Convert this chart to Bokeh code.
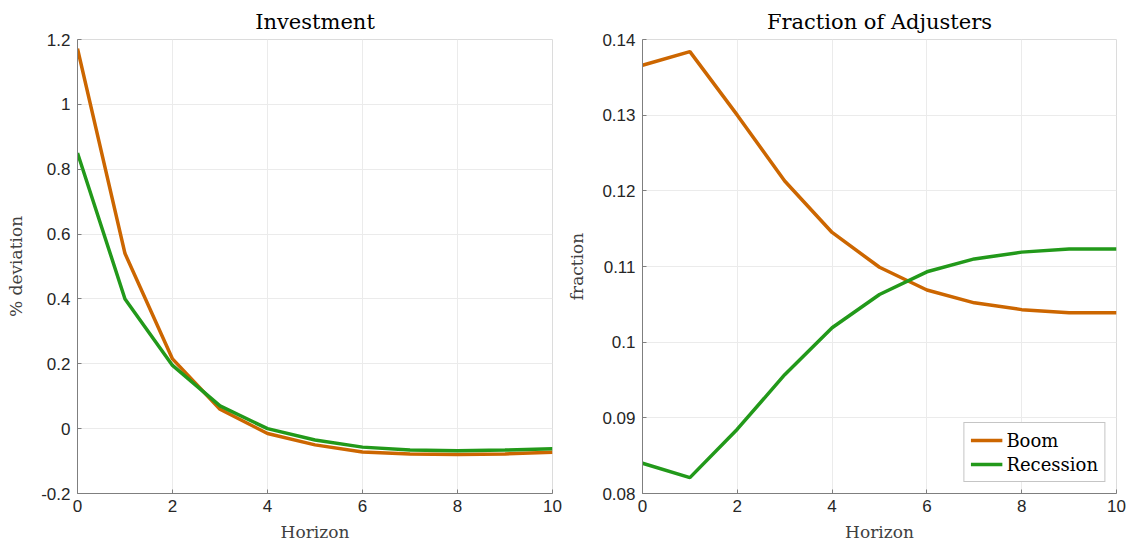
from bokeh.plotting import figure
from bokeh.layouts import row
from bokeh.models import FixedTicker, CustomJSTickFormatter, Range1d, Legend, LegendItem
from bokeh.embed import file_html
from bokeh.resources import INLINE

horizon = [0, 1, 2, 3, 4, 5, 6, 7, 8, 9, 10]

inv_boom = [1.172, 0.54, 0.215, 0.06, -0.015, -0.05, -0.072, -0.078, -0.08, -0.078, -0.073]
inv_recession = [0.85, 0.40, 0.195, 0.07, 0.0, -0.035, -0.057, -0.066, -0.068, -0.066, -0.062]

adj_boom = [0.1366, 0.1384, 0.1300, 0.1213, 0.1145, 0.1099, 0.1069, 0.1052, 0.1043, 0.1039, 0.1039]
adj_recession = [0.0840, 0.0821, 0.0885, 0.0957, 0.1019, 0.1063, 0.1093, 0.1110, 0.1119, 0.1123, 0.1123]

x_ticks = [0, 2, 4, 6, 8, 10]
inv_ticks = [-0.2, 0, 0.2, 0.4, 0.6, 0.8, 1, 1.2]
adj_ticks = [0.08, 0.09, 0.1, 0.11, 0.12, 0.13, 0.14]

titles = ["Investment", "Fraction of Adjusters"]
ylabels = ["% deviation", "fraction"]
xlabel = "Horizon"
series_names = ["Boom", "Recession"]

BOOM = "#cc6600"
REC = "#22991a"
SERIF = "DejaVu Serif"
SANS = "Liberation Sans"

fmt = CustomJSTickFormatter(code="return String(parseFloat(tick.toFixed(4)));")


def make_fig(title, ylabel, ys, yrange, yticks, left, right):
    p = figure(width=564, height=544, output_backend="svg", toolbar_location=None,
               x_range=Range1d(0, 10), y_range=Range1d(*yrange),
               min_border_left=left, min_border_right=right,
               min_border_top=39, min_border_bottom=51)
    p.title.text = title
    p.title.align = "center"
    p.title.text_font = SERIF
    p.title.text_font_style = "normal"
    p.title.text_font_size = "21px"
    p.title.text_color = "#000000"
    p.title.standoff = 12
    p.background_fill_color = "white"
    p.border_fill_color = "white"
    p.outline_line_color = "#dcdcdc"
    p.outline_line_width = 1

    for ax in (p.xaxis[0], p.yaxis[0]):
        ax.axis_line_color = "#7f7f7f"
        ax.major_tick_line_color = "#7f7f7f"
        ax.major_tick_in = 4
        ax.major_tick_out = 0
        ax.minor_tick_line_color = None
        ax.major_label_text_font = SANS
        ax.major_label_text_font_size = "17px"
        ax.major_label_text_color = "#262626"
        ax.axis_label_text_font = SERIF
        ax.axis_label_text_font_style = "normal"
        ax.axis_label_text_font_size = "17px"
        ax.axis_label_text_color = "#404040"
        ax.major_label_standoff = 7

    p.xaxis.ticker = FixedTicker(ticks=x_ticks)
    p.yaxis.ticker = FixedTicker(ticks=yticks)
    p.xaxis.formatter = fmt
    p.yaxis.formatter = fmt
    p.xaxis.axis_label = xlabel
    p.xaxis.axis_label_standoff = 7
    p.xaxis.major_label_standoff = 6
    p.yaxis.axis_label = ylabel
    p.yaxis.axis_label_standoff = 12

    p.grid.grid_line_color = "#ebebeb"
    p.grid.grid_line_width = 1

    r1 = p.line(horizon, ys[0], line_color=BOOM, line_width=3.5)
    r2 = p.line(horizon, ys[1], line_color=REC, line_width=3.5)
    return p, r1, r2


p1, _, _ = make_fig(titles[0], ylabels[0], [inv_boom, inv_recession], (-0.2, 1.2), inv_ticks, 77, 12)
p2, b, r = make_fig(titles[1], ylabels[1], [adj_boom, adj_recession], (0.08, 0.14), adj_ticks, 78, 12)

legend = Legend(items=[LegendItem(label=series_names[0], renderers=[b]),
                       LegendItem(label=series_names[1], renderers=[r])],
                location="bottom_right")
legend.label_text_font = SERIF
legend.label_text_font_size = "18px"
legend.label_text_color = "#000000"
legend.border_line_color = "#8c8c8c"
legend.border_line_width = 1
legend.background_fill_color = "white"
legend.background_fill_alpha = 1
legend.margin = 11
legend.padding = 6
legend.spacing = 2
legend.glyph_width = 32
legend.label_standoff = 4
legend.label_height = 22
legend.glyph_height = 22
p2.add_layout(legend)

layout = row(p1, p2)
open("out.html", "w").write(file_html(layout, INLINE))
